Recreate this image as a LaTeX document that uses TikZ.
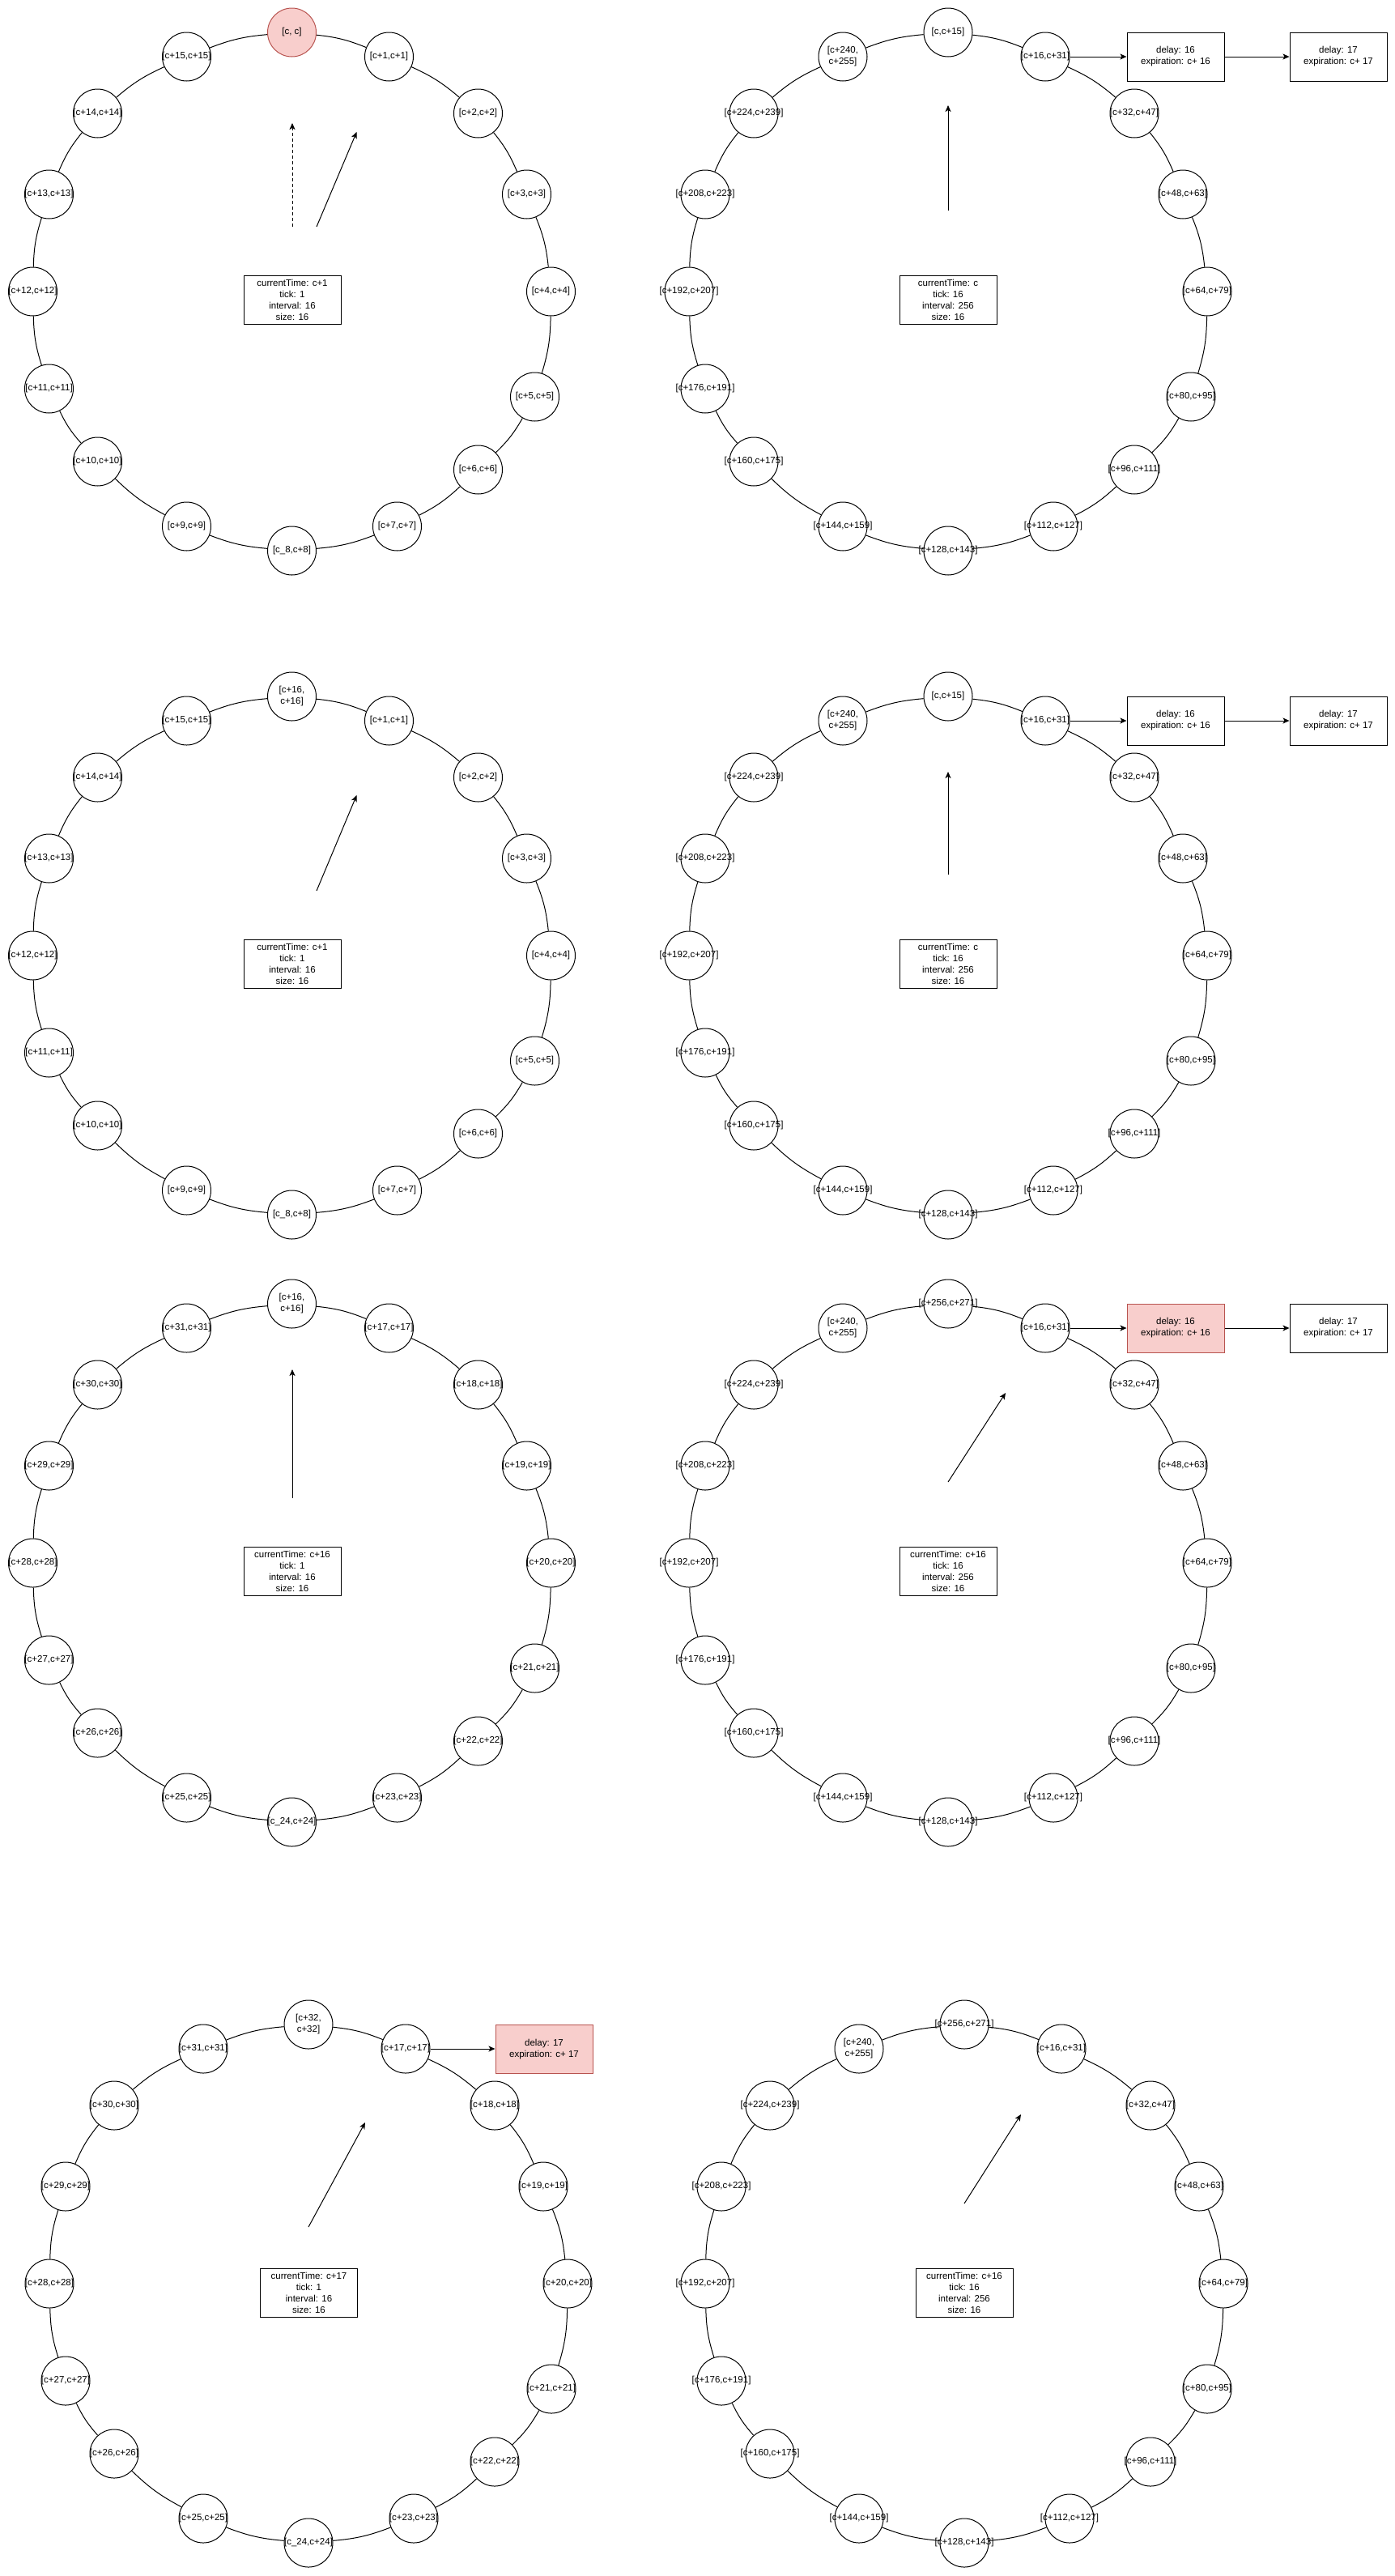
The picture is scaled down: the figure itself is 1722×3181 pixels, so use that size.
\documentclass[tikz,border=0pt]{standalone}
\usepackage{fontspec}
\setmainfont{Liberation Sans}
\usetikzlibrary{positioning,arrows.meta}

\definecolor{hotfill}{HTML}{F8CECC}
\definecolor{hotline}{HTML}{B85450}
% text of a slot may run over its circle
\newcommand{\slottext}[1]{\makebox[0pt]{\begin{tabular}{@{}c@{}}#1\end{tabular}}}
% slot i / dx / dy, clockwise from the top slot
\newcommand{\slotspots}{1/120/290,2/230/220,3/290/120,4/320/0,5/300/-130,6/230/-220,7/130/-290,8/0/-320,9/-130/-290,10/-240/-210,11/-300/-120,12/-320/0,13/-300/120,14/-240/220,15/-130/290}

\begin{document}
\begin{tikzpicture}[
		x=1pt,y=1pt,
		line width=1pt,
		font=\fontsize{11.5}{14}\selectfont,
		slot/.style={draw,circle,minimum size=60pt,inner sep=0pt,fill=white},
		hot/.style={fill=hotfill,draw=hotline},
		cold/.style={},
		info/.style={draw,rectangle,minimum width=120pt,minimum height=60pt,align=center},
		timer/.style={draw,rectangle,minimum width=120pt,minimum height=60pt,align=center},
		hand/.style={-{Stealth[length=8pt,width=7pt,inset=2pt]}},
		ring/.style={bend left=8}
		]
		\useasboundingbox (0,0) rectangle (1722,-3181);
		% wheels with interval 16
		\foreach \w/\cx/\cy/\base/\head/\look in {a/360.5/-360/0/{[c, c]}/hot, c/360.5/-1180/0/{[c+16,\\c+16]}/cold, e/360.5/-1930/16/{[c+16,\\c+16]}/cold, g/381/-2820/16/{[c+32,\\c+32]}/cold}{
			\node[slot,\look] (\w0) at (\cx,\cy+320) {\slottext{\head}};
			\foreach \i/\dx/\dy in \slotspots {
				\pgfmathtruncatemacro{\lo}{\base+\i}
				\ifnum\i=8
					\node[slot] (\w\i) at (\cx+\dx,\cy+\dy) {\slottext{[c\_\lo,c+\lo]}};
				\else
					\node[slot] (\w\i) at (\cx+\dx,\cy+\dy) {\slottext{[c+\lo,c+\lo]}};
				\fi
			}
		}
		% wheels with interval 256
		\foreach \w/\cx/\cy/\head in {b/1171/-360/{[c,c+15]}, d/1171/-1180/{[c,c+15]}, f/1171/-1930/{[c+256,c+271]}, h/1191/-2820/{[c+256,c+271]}}{
			\node[slot] (\w0) at (\cx,\cy+320) {\slottext{\head}};
			\foreach \i/\dx/\dy in \slotspots {
				\pgfmathtruncatemacro{\lo}{16*\i}
				\pgfmathtruncatemacro{\hi}{16*\i+15}
				\ifnum\i=15
					\node[slot] (\w\i) at (\cx+\dx,\cy+\dy) {\slottext{[c+\lo,\\c+\hi]}};
				\else
					\node[slot] (\w\i) at (\cx+\dx,\cy+\dy) {\slottext{[c+\lo,c+\hi]}};
				\fi
			}
		}
		\foreach \w in {a,b,c,d,e,f,g,h}{
			\foreach \i in {0,...,15}{
				\pgfmathtruncatemacro{\j}{mod(\i+1,16)}
				\path (\w\i) edge[ring] (\w\j);
			}
		}
		\node[info] (infoa) at (361,-370) {currentTime: c+1\\tick: 1\\interval: 16\\size: 16};
		\node[info] (infob) at (1171,-370) {currentTime: c\\tick: 16\\interval: 256\\size: 16};
		\node[info] (infoc) at (361,-1190) {currentTime: c+1\\tick: 1\\interval: 16\\size: 16};
		\node[info] (infod) at (1171,-1190) {currentTime: c\\tick: 16\\interval: 256\\size: 16};
		\node[info] (infoe) at (361,-1940) {currentTime: c+16\\tick: 1\\interval: 16\\size: 16};
		\node[info] (infof) at (1171,-1940) {currentTime: c+16\\tick: 16\\interval: 256\\size: 16};
		\node[info] (infog) at (381.5,-2831) {currentTime: c+17\\tick: 1\\interval: 16\\size: 16};
		\node[info] (infoh) at (1191,-2831) {currentTime: c+16\\tick: 16\\interval: 256\\size: 16};
		% clock hands
		\foreach \w/\ax/\ay/\bx/\by in {a/391/-280/440.5/-163, b/1171/-260/1171/-130, c/391/-1100/440.5/-982, d/1171/-1080/1171/-953, e/361/-1850/361/-1691, f/1171/-1830/1242/-1720, g/381/-2750/451/-2621, h/1191/-2721/1261/-2611}{
			\coordinate (tail\w) at (\ax,\ay);
			\coordinate (tip\w) at (\bx,\by);
			\draw[hand] (tail\w) -- (tip\w);
		}
		\coordinate (oldtail) at (361,-280);
		\coordinate (oldtip) at (361,-152);
		\draw[hand,dash pattern=on 4pt off 3pt] (oldtail) -- (oldtip);
		% timer lists
		\node[timer,right=70pt of b1] (delayb) {delay: 16\\expiration: c+ 16};
		\node[timer,right=80pt of delayb] (laterb) {delay: 17\\expiration: c+ 17};
		\node[timer,right=70pt of d1] (delayd) {delay: 16\\expiration: c+ 16};
		\node[timer,right=80pt of delayd] (laterd) {delay: 17\\expiration: c+ 17};
		\node[timer,hot,right=70pt of f1] (delayf) {delay: 16\\expiration: c+ 16};
		\node[timer,right=80pt of delayf] (laterf) {delay: 17\\expiration: c+ 17};
		\node[timer,hot,right=80pt of g1] (delayg) {delay: 17\\expiration: c+ 17};
		\path [hand]
		(b1) edge (delayb) (delayb) edge (laterb)
		(d1) edge (delayd) (delayd) edge (laterd)
		(f1) edge (delayf) (delayf) edge (laterf)
		(g1) edge (delayg);
	\end{tikzpicture}
\end{document}
